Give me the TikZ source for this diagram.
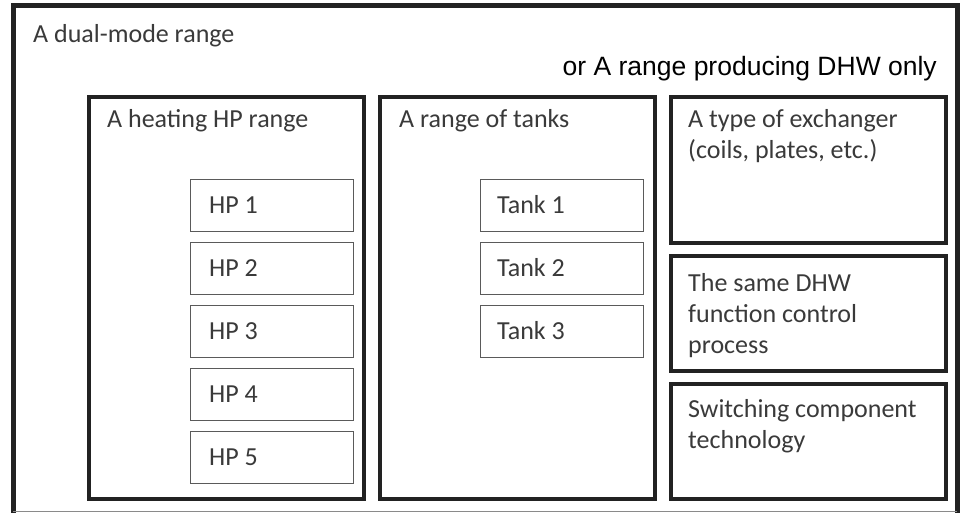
\documentclass[tikz,border=0pt]{standalone}
\usepackage{fontspec}
\setmainfont{Carlito}
\newfontfamily\arialfont{Liberation Sans}
\definecolor{txt}{HTML}{3A3A3A}
\definecolor{thickc}{HTML}{222222}
\definecolor{thinc}{HTML}{5A5A5A}
\definecolor{edgec}{HTML}{8A8A8A}
\begin{document}
\begin{tikzpicture}[x=1pt,y=-1pt,
  bigbox/.style={draw=thickc, line width=4pt, inner sep=0pt, anchor=north west},
  smallbox/.style={draw=thinc, line width=1.3pt, inner sep=0pt, anchor=north west,
                   minimum width=163pt, minimum height=52pt},
  lbl/.style={anchor=base west, inner sep=0pt, text=txt, font=\fontsize{26}{31}\selectfont},
  albl/.style={anchor=base east, inner sep=0pt, text=black, font=\arialfont\fontsize{26.5}{31}\selectfont},
]
\useasboundingbox (0,0) rectangle (960,513);
\fill[white] (0,0) rectangle (960,513);

% outer frame (cropped at the bottom)
\coordinate (obl) at (13,513);
\coordinate (otl) at (13,5.5);
\coordinate (otr) at (957,5.5);
\coordinate (obr) at (957,513);
\draw[thickc, line width=5pt] (obl) -- (otl) -- (otr) -- (obr);
\coordinate (bl) at (13,511.5);
\coordinate (br) at (957,511.5);
\draw[edgec, line width=1.5pt] (bl) -- (br);

\node[lbl] (tdual) at (33,43) {A dual-mode range};
\node[albl] (tdhw) at (937,76) {or A range producing DHW only};

% big boxes
\node[bigbox, minimum width=275pt, minimum height=401.5pt] (heat) at (87,95.5) {};
\node[bigbox, minimum width=275pt, minimum height=401.5pt] (tanks) at (378,95.5) {};
\node[bigbox, minimum width=275pt, minimum height=145.5pt] (exch) at (669,95.5) {};
\node[bigbox, minimum width=275pt, minimum height=114.5pt] (ctrl) at (669,254) {};
\node[bigbox, minimum width=275pt, minimum height=115pt] (sw) at (669,382) {};

\node[lbl] (theat) at (107,128) {A heating HP range};
\node[lbl] (ttanks) at (399,128) {A range of tanks};
\node[lbl] (texch1) at (688,128) {A type of exchanger};
\node[lbl] (texch2) at (688,159) {(coils, plates, etc.)};
\node[lbl] (tctrl1) at (688,291) {The same DHW};
\node[lbl] (tctrl2) at (688,322) {function control};
\node[lbl] (tctrl3) at (688,353) {process};
\node[lbl] (tsw1) at (688,417) {Switching component};
\node[lbl] (tsw2) at (688,448) {technology};

% HP boxes
\foreach \i in {1,...,5} {
  \node[smallbox] (hp\i) at (189.5,{179+63*(\i-1)}) {};
  \node[lbl] (thp\i) at (209,{213+63*(\i-1)}) {HP \i};
}
% Tank boxes
\foreach \i in {1,2,3} {
  \node[smallbox] (tk\i) at (479.5,{179+63*(\i-1)}) {};
  \node[lbl] (ttk\i) at (497,{213+63*(\i-1)}) {Tank \i};
}
\end{tikzpicture}
\end{document}
